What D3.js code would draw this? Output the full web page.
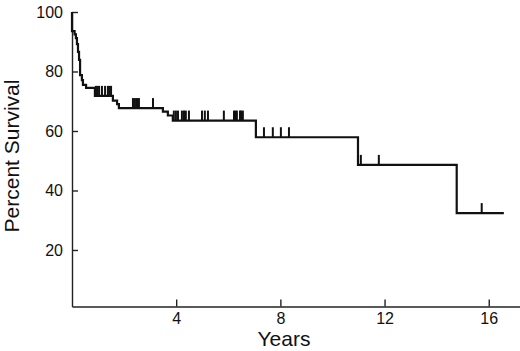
<!DOCTYPE html>
<html lang="en">
<head>
  <meta charset="UTF-8" />
  <title>Percent Survival</title>
  <script src="https://d3js.org/d3.v7.min.js"></script>
  <style>
    body { margin: 0; background: #fff; font-family: "Liberation Sans", Arial, sans-serif; }
    .axis text { font-size: 16px; fill: #111; font-family: "Liberation Sans", Arial, sans-serif; }
    .axis path, .axis line { stroke: #222; stroke-width: 1.4px; }
    .label { font-size: 21px; fill: #111; }
  </style>
</head>
<body>
  <svg width="520" height="351"></svg>
  <script>
    // step times (years) and survival after each step
    const stepTimes = [0, 0, 0.1, 0.15, 0.19, 0.23, 0.27, 0.31, 0.38, 0.42, 0.54, 0.88,
      1.57, 1.73, 1.8, 3.49, 3.68, 3.87, 7.06, 10.98, 14.77];
    const stepSurvival = [100, 93.6, 92.5, 91.2, 89.2, 86.6, 83.9, 78.8, 77.1, 75.5, 74.5, 71.8,
      70.2, 69, 67.7, 66.5, 65.2, 63.5, 57.9, 48.6, 32.4];
    const lastTime = 16.58;
    // censored observations
    const censorTimes = [0.92, 0.98, 1.04, 1.15, 1.27, 1.38, 1.44, 1.5,
      2.34, 2.4, 2.46, 2.52, 2.57, 3.11,
      3.91, 3.99, 4.07, 4.22, 4.3, 4.37, 4.49, 4.99, 5.1, 5.22, 5.83, 6.22, 6.28, 6.33, 6.45, 6.5, 6.56,
      7.37, 7.71, 8.02, 8.33,
      11.09, 11.78,
      15.73];
    const xTicks = [4, 8, 12, 16];
    const yTicks = [20, 40, 60, 80, 100];

    const svg = d3.select("svg");
    const x = d3.scaleLinear().domain([0, 17.2]).range([72, 520]);
    const y = d3.scaleLinear().domain([1, 100]).range([306.5, 12]);

    svg.append("g")
      .attr("class", "axis")
      .attr("transform", `translate(0,${y(1)})`)
      .call(d3.axisBottom(x).tickValues(xTicks).tickSize(-7).tickSizeOuter(0).tickPadding(6))
      .call(g => g.selectAll("text").attr("dy", "0.72em"));

    svg.append("g")
      .attr("class", "axis")
      .attr("transform", `translate(${x(0)},0)`)
      .call(d3.axisLeft(y).tickValues(yTicks).tickSize(-6).tickSizeOuter(0).tickPadding(9));

    const pts = stepTimes.map((t, i) => [t, stepSurvival[i]]);
    pts.push([lastTime, stepSurvival[stepSurvival.length - 1]]);

    svg.append("path")
      .datum(pts)
      .attr("fill", "none")
      .attr("stroke", "#111")
      .attr("stroke-width", 2.2)
      .attr("d", d3.line().x(d => x(d[0])).y(d => y(d[1])).curve(d3.curveStepAfter));

    const survAt = t => {
      let s = stepSurvival[0];
      stepTimes.forEach((st, i) => { if (st <= t) s = stepSurvival[i]; });
      return s;
    };

    svg.selectAll(".censor")
      .data(censorTimes)
      .enter()
      .append("line")
      .attr("class", "censor")
      .attr("x1", d => x(d))
      .attr("x2", d => x(d))
      .attr("y1", d => y(survAt(d)))
      .attr("y2", d => y(survAt(d)) - 10)
      .attr("stroke", "#111")
      .attr("stroke-width", 2);

    svg.append("text")
      .attr("class", "label")
      .attr("text-anchor", "middle")
      .attr("transform", `translate(19,156) rotate(-90)`)
      .text("Percent Survival");

    svg.append("text")
      .attr("class", "label")
      .attr("text-anchor", "middle")
      .attr("x", 284)
      .attr("y", 346)
      .text("Years");
  </script>
</body>
</html>
